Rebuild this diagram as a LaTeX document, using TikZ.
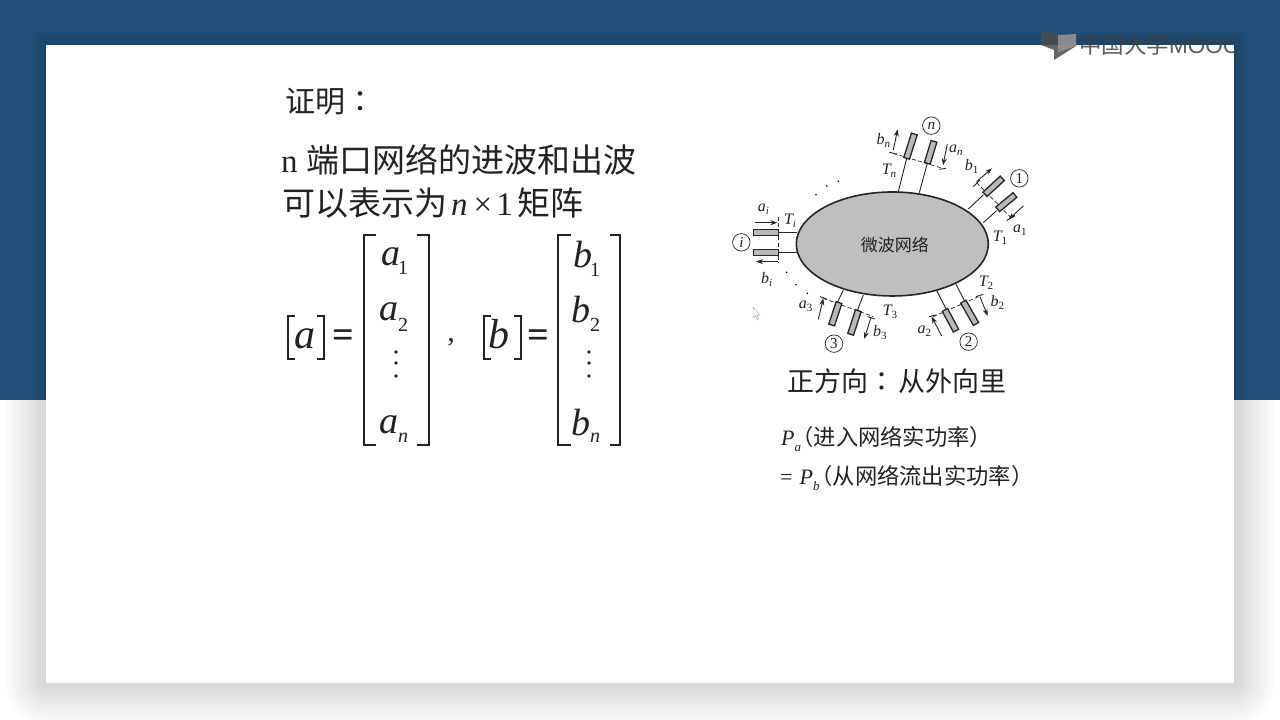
\documentclass[tikz,border=0pt]{standalone}
\usepackage{fontspec}
\setmainfont{Liberation Serif}
\newfontfamily\cjk{Noto Sans CJK SC}
\newfontfamily\cjkh[RawFeature={+halt}]{Noto Sans CJK SC}
\newfontfamily\cjktc{Noto Sans CJK TC}
\newfontfamily\lat{Liberation Serif}
\newfontfamily\logo{Liberation Sans}
\usetikzlibrary{arrows.meta,calc,shapes.geometric}
\definecolor{bluebg}{HTML}{214F78}
\definecolor{ink}{HTML}{222222}
\tikzset{
 cn/.style={font=\cjk\fontsize{#1}{#1}\selectfont,text=ink,inner sep=0pt,anchor=west},
 mathit/.style={font=\lat\itshape\fontsize{#1}{#1}\selectfont,text=ink,inner sep=0pt},
 up/.style={font=\lat\fontsize{#1}{#1}\selectfont,text=ink,inner sep=0pt},
 brk/.style={draw=ink,line width=1.6pt},
 portline/.style={draw=black!85,line width=0.9pt},
 dashline/.style={draw=black!85,line width=0.7pt,dash pattern=on 4pt off 2.5pt},
 wave/.style={draw=black!85,line width=0.9pt,-{Stealth[length=7pt,width=5pt]}},
 tick/.style={draw=black!85,line width=0.9pt},
 lab/.style={font=\lat\itshape\fontsize{16}{16}\selectfont,text=ink,inner sep=0pt},
 numc/.style={draw=black!85,circle,line width=0.7pt,minimum size=17.5pt,inner sep=0pt,font=\lat\fontsize{15}{15}\selectfont,text=ink},
}
\newcommand{\portbar}[3]{% start, end, width
 \path let \p1=(#1),\p2=(#2),\n1={atan2(\y2-\y1,\x2-\x1)},\n2={veclen(\x2-\x1,\y2-\y1)} in
 node[draw=black!85,line width=1.3pt,fill=gray!55,rotate=\n1,minimum width=\n2,minimum height=#3,inner sep=0pt,outer sep=0pt] at ($(#1)!0.5!(#2)$) {};}
\newcommand{\lsub}[2]{#1\raisebox{-3pt}{\fontsize{11}{11}\selectfont #2}}
\newcommand{\psub}[1]{{\lat\itshape\fontsize{22}{22}\selectfont P\raisebox{-6pt}{\fontsize{13}{13}\selectfont #1}}}
\begin{document}
\begin{tikzpicture}[x=1pt,y=-1pt]
\useasboundingbox (0,0) rectangle (1280,720);
% background
\fill[bluebg] (0,0) rectangle (1280,400);
\fill[white] (0,400) rectangle (1280,720);
% card shadow
\begin{scope}
 \clip (0,400) rectangle (1280,720);
 \foreach \d in {40,36,32,28,24,20,16,12,8,4}
  \fill[black,opacity=0.015,rounded corners=\d pt] (46-\d,300) rectangle (1234+\d,683+\d);
\end{scope}
\foreach \d in {12,9,6,3}
  \fill[black,opacity=0.03] (46-\d,45-\d) rectangle (1234+\d,400);
\fill[white] (46,45) rectangle (1234,683);
% logo
\fill[black!70,opacity=.85] (1041,30) -- (1058,35) -- (1076,34) -- (1076,46) -- (1054,60) -- (1054,50) -- (1041,45) -- cycle;
\fill[black!40,opacity=.8] (1058,35) -- (1076,34) -- (1076,46) -- (1058,52) -- cycle;
\node[font=\cjk\fontsize{22.5}{22.5}\selectfont,text=black!75,opacity=.85,inner sep=0pt,anchor=west] (logotext) at (1079,45) {中国大学\logo MOOC};
% left text
\node[cn=30] (t1) at (285,102) {证明\cjktc ：};
\node[cn=33] (t2) at (281,160) {\lat n\hspace{9pt}\cjk 端口网络的进波和出波};
\node[cn=33] (t3) at (282,203) {可以表示为\hspace{4pt}\lat\itshape n\hspace{6pt}\upshape×\hspace{4pt}1\hspace{5pt}\cjk 矩阵};
% matrix a
\node[mathit=42] (la) at (305,339) {a};
\draw[brk] (295,316) -- (288,316) -- (288,359) -- (295,359);
\draw[brk] (317,316) -- (324,316) -- (324,359) -- (317,359);
\node[font=\lat\bfseries\fontsize{38}{38}\selectfont,text=ink,inner sep=0pt] (eqa) at (343,339) {=};
\draw[brk] (376,235) -- (364,235) -- (364,445) -- (376,445);
\draw[brk] (417,235) -- (429,235) -- (429,445) -- (417,445);
\node[mathit=38] (a1) at (391,257) {a};
\node[up=20] (a1s) at (403,268) {1};
\node[mathit=38] (a2) at (389,312) {a};
\node[up=20] (a2s) at (403,325) {2};
\foreach \y in {352,363,376} \fill[ink] (396,\y) circle (1.8);
\node[mathit=38] (an) at (389,425) {a};
\node[mathit=20] (ans) at (403,438) {n};
\node[up=30] (comma) at (451,342) {,};
% matrix b
\node[mathit=42] (lb) at (499,334) {b};
\draw[brk] (491,316) -- (484,316) -- (484,359) -- (491,359);
\draw[brk] (514,316) -- (521,316) -- (521,359) -- (514,359);
\node[font=\lat\bfseries\fontsize{38}{38}\selectfont,text=ink,inner sep=0pt] (eqb) at (538,339) {=};
\draw[brk] (571,235) -- (558,235) -- (558,445) -- (571,445);
\draw[brk] (610,235) -- (620,235) -- (620,445) -- (610,445);
\node[mathit=38] (b1) at (583,254) {b};
\node[up=20] (b1s) at (595,270) {1};
\node[mathit=38] (b2) at (581,309) {b};
\node[up=20] (b2s) at (595,325) {2};
\foreach \y in {352,363,376} \fill[ink] (589,\y) circle (1.8);
\node[mathit=38] (bn) at (581,422) {b};
\node[mathit=20] (bns) at (595,438) {n};
% microwave network figure
\begin{scope}[shift={(720,100)},x=0.3333pt,y=-0.3333pt]
 \node[draw=black!85,line width=1.6pt,fill=gray!50,ellipse,minimum width=192pt,minimum height=104pt,inner sep=0pt] (net) at (517,432) {};
 \node[font=\cjk\fontsize{17}{17}\selectfont,text=ink,inner sep=0pt] (netl) at (525,434) {微波网络};
 % port n
 \draw[portline] (535,275) -- (560,175); \draw[portline] (598,278) -- (622,190);
 \draw[dashline] (520,160) -- (668,205);
 \draw[tick] (508,157) -- (530,162); \draw[tick] (658,208) -- (678,205);
 \draw[wave] (520,150) -- (533,88); \draw[wave] (682,132) -- (669,196);
 \coordinate (p1) at (560,175); \coordinate (p2) at (583,102); \portbar{p1}{p2}{6pt}
 \coordinate (p3) at (622,190); \coordinate (p4) at (642,124); \portbar{p3}{p4}{6pt}
 % port 1
 \draw[portline] (745,327) -- (790,285); \draw[portline] (790,368) -- (830,332);
 \draw[dashline] (770,248) -- (880,360);
 \draw[tick] (760,260) -- (780,240); \draw[tick] (860,362) -- (885,345);
 \draw[wave] (770,245) -- (816,205); \draw[wave] (910,318) -- (866,358);
 \coordinate (q1) at (795,283); \coordinate (q2) at (847,235); \portbar{q1}{q2}{6pt}
 \coordinate (q3) at (833,328); \coordinate (q4) at (885,285); \portbar{q3}{q4}{6pt}
 % port 2
 \draw[portline] (650,572) -- (680,630); \draw[portline] (708,553) -- (735,605);
 \draw[dashline] (640,650) -- (775,590);
 \draw[tick] (628,650) -- (648,645); \draw[tick] (768,590) -- (790,583);
 \draw[wave] (665,708) -- (635,650); \draw[wave] (780,590) -- (803,648);
 \coordinate (r1) at (675,630); \coordinate (r2) at (708,692); \portbar{r1}{r2}{6pt}
 \coordinate (r3) at (730,605); \coordinate (r4) at (768,672); \portbar{r3}{r4}{6pt}
 % port 3
 \draw[portline] (370,570) -- (352,608); \draw[portline] (430,585) -- (412,632);
 \draw[dashline] (310,595) -- (460,650);
 \draw[tick] (300,590) -- (320,597); \draw[tick] (443,650) -- (465,657);
 \draw[wave] (295,658) -- (310,595); \draw[wave] (452,655) -- (433,717);
 \coordinate (s1) at (357,608); \coordinate (s2) at (335,675); \portbar{s1}{s2}{6pt}
 \coordinate (s3) at (415,632); \coordinate (s4) at (392,703); \portbar{s3}{s4}{6pt}
 % port i
 \draw[portline] (232,398) -- (175,398); \draw[portline] (232,458) -- (175,458);
 \draw[dashline] (175,350) -- (175,490);
 \draw[wave] (105,368) -- (172,368); \draw[wave] (175,485) -- (108,485);
 \coordinate (u1) at (175,398); \coordinate (u2) at (100,398); \portbar{u1}{u2}{6pt}
 \coordinate (u3) at (175,458); \coordinate (u4) at (100,458); \portbar{u3}{u4}{6pt}
 % labels
 \node[lab] (lbn) at (490,122) {\lsub{b}{n}};
 \node[lab] (lan) at (708,150) {\lsub{a}{n}};
 \node[lab] (ltn) at (507,212) {\lsub{T}{n}};
 \node[lab] (lb1) at (755,200) {\lsub{b}{\upshape 1}};
 \node[lab] (la1) at (900,392) {\lsub{a}{\upshape 1}};
 \node[lab] (lt1) at (840,412) {\lsub{T}{\upshape 1}};
 \node[lab] (lt2) at (798,547) {\lsub{T}{\upshape 2}};
 \node[lab] (lb2) at (832,607) {\lsub{b}{\upshape 2}};
 \node[lab] (la2) at (613,695) {\lsub{a}{\upshape 2}};
 \node[lab] (la3) at (257,618) {\lsub{a}{\upshape 3}};
 \node[lab] (lt3) at (510,635) {\lsub{T}{\upshape 3}};
 \node[lab] (lb3) at (480,698) {\lsub{b}{\upshape 3}};
 \node[lab] (lai) at (130,327) {\lsub{a}{i}};
 \node[lab] (lti) at (210,362) {\lsub{T}{i}};
 \node[lab] (lbi) at (140,537) {\lsub{b}{i}};
 \node[numc] (cn) at (634,77) {\itshape n};
 \node[numc] (c1) at (898,235) {1};
 \node[numc] (c2) at (746,725) {2};
 \node[numc] (c3) at (342,731) {3};
 \node[numc] (ci) at (64,427) {\itshape i};
 \foreach \a/\b in {288/284,320/258,355/244,200/517,228/554,262/580}
   \fill[black] (\a,\b) circle (2.6);
\end{scope}
% cursor
\draw[gray!70,fill=white,line width=.5pt] (753,307) -- (753,318) -- (755.5,316) -- (757.5,320) -- (758.5,319) -- (757,315.5) -- (760,315) -- cycle;
% caption texts
\node[cn=27] (dir) at (787,381) {正方向\cjktc ：\hspace{3pt}\cjk 从外向里};
\node[cn=22.3] (pat) at (781,439) {\psub{a}\hspace{1.5pt}\cjkh （进入网络实功率）};
\node[cn=22.3] (pbt) at (780,478) {{\lat\fontsize{22}{22}\selectfont =}\hspace{7pt}\psub{b}\hspace{2pt}\cjkh （从网络流出实功率）};
\end{tikzpicture}
\end{document}
